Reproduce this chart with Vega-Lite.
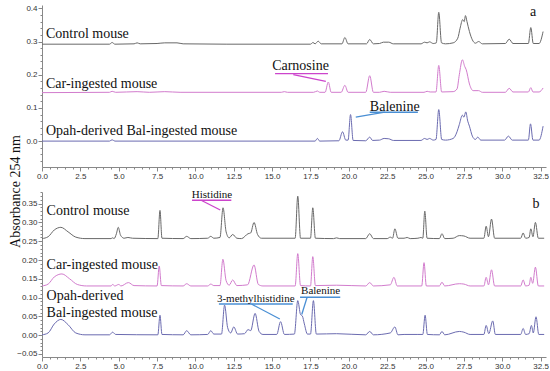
{
  "$schema": "https://vega.github.io/schema/vega-lite/v6.json",
  "padding": {"top": 4, "left": 8, "right": 0, "bottom": 0},
  "bounds": "flush",
  "spacing": 25,
  "config": {
    "view": {"stroke": null},
    "axis": {"domainColor": "#888", "tickColor": "#888", "labelColor": "#333", "labelFont": "Liberation Sans", "labelFontSize": 8, "labelPadding": 1, "grid": false, "labelFlush": false, "labelOverlap": false}
  },
  "datasets": {
    "tC": [{"t":0,"a":0.292},{"t":4.4,"a":0.292},{"t":4.57,"a":0.297},{"t":4.75,"a":0.292},{"t":6.0,"a":0.293},{"t":6.2,"a":0.296},{"t":6.4,"a":0.293},{"t":7.5,"a":0.294},{"t":8.0,"a":0.296},{"t":8.8,"a":0.296},{"t":9.2,"a":0.293},{"t":12,"a":0.292},{"t":17.5,"a":0.292},{"t":17.66,"a":0.297},{"t":17.8,"a":0.293},{"t":18.0,"a":0.301},{"t":18.2,"a":0.293},{"t":19.55,"a":0.293},{"t":19.74,"a":0.312},{"t":19.95,"a":0.293},{"t":21.15,"a":0.293},{"t":21.36,"a":0.306},{"t":21.6,"a":0.293},{"t":22.0,"a":0.294},{"t":22.25,"a":0.298},{"t":22.6,"a":0.298},{"t":22.9,"a":0.293},{"t":24.7,"a":0.293},{"t":24.94,"a":0.298},{"t":25.1,"a":0.296},{"t":25.26,"a":0.299},{"t":25.5,"a":0.294},{"t":25.7,"a":0.296},{"t":25.86,"a":0.388},{"t":26.04,"a":0.296},{"t":26.3,"a":0.293},{"t":26.8,"a":0.296},{"t":27.1,"a":0.31},{"t":27.25,"a":0.34},{"t":27.42,"a":0.366},{"t":27.52,"a":0.36},{"t":27.6,"a":0.378},{"t":27.7,"a":0.36},{"t":27.86,"a":0.33},{"t":28.05,"a":0.305},{"t":28.25,"a":0.295},{"t":28.46,"a":0.30},{"t":28.7,"a":0.293},{"t":30.2,"a":0.294},{"t":30.45,"a":0.307},{"t":30.7,"a":0.294},{"t":31.7,"a":0.294},{"t":31.86,"a":0.342},{"t":32.02,"a":0.294},{"t":32.4,"a":0.294},{"t":32.66,"a":0.33}],
    "tP": [{"t":0,"a":0.146},{"t":4.4,"a":0.147},{"t":4.57,"a":0.150},{"t":4.8,"a":0.147},{"t":6.2,"a":0.149},{"t":7,"a":0.147},{"t":8,"a":0.149},{"t":9,"a":0.147},{"t":15.6,"a":0.147},{"t":15.8,"a":0.149},{"t":16.0,"a":0.147},{"t":17.7,"a":0.147},{"t":17.95,"a":0.151},{"t":18.1,"a":0.147},{"t":18.45,"a":0.147},{"t":18.66,"a":0.178},{"t":18.85,"a":0.147},{"t":19.5,"a":0.147},{"t":19.74,"a":0.168},{"t":19.95,"a":0.147},{"t":21.1,"a":0.147},{"t":21.36,"a":0.197},{"t":21.6,"a":0.147},{"t":22.0,"a":0.147},{"t":22.3,"a":0.150},{"t":22.7,"a":0.147},{"t":24.9,"a":0.147},{"t":25.1,"a":0.150},{"t":25.3,"a":0.148},{"t":25.68,"a":0.148},{"t":25.86,"a":0.228},{"t":26.05,"a":0.148},{"t":26.8,"a":0.149},{"t":27.05,"a":0.157},{"t":27.2,"a":0.2},{"t":27.4,"a":0.245},{"t":27.55,"a":0.225},{"t":27.65,"a":0.215},{"t":27.86,"a":0.172},{"t":28.1,"a":0.152},{"t":28.46,"a":0.152},{"t":28.7,"a":0.147},{"t":30.2,"a":0.147},{"t":30.45,"a":0.159},{"t":30.7,"a":0.148},{"t":31.7,"a":0.148},{"t":31.86,"a":0.161},{"t":32.0,"a":0.148},{"t":32.4,"a":0.148},{"t":32.66,"a":0.16}],
    "tB": [{"t":0,"a":0.0},{"t":4.4,"a":0.0},{"t":4.57,"a":0.004},{"t":4.75,"a":0.0},{"t":17.8,"a":0.0},{"t":17.95,"a":0.008},{"t":18.1,"a":0.0},{"t":19.35,"a":0.001},{"t":19.59,"a":0.028},{"t":19.8,"a":0.003},{"t":19.95,"a":0.003},{"t":20.11,"a":0.08},{"t":20.28,"a":0.002},{"t":21.1,"a":0.001},{"t":21.36,"a":0.012},{"t":21.55,"a":0.002},{"t":22.0,"a":0.003},{"t":22.3,"a":0.008},{"t":22.6,"a":0.007},{"t":22.9,"a":0.002},{"t":24.7,"a":0.002},{"t":24.94,"a":0.008},{"t":25.1,"a":0.005},{"t":25.26,"a":0.008},{"t":25.5,"a":0.003},{"t":25.68,"a":0.005},{"t":25.86,"a":0.095},{"t":26.05,"a":0.005},{"t":26.3,"a":0.003},{"t":26.8,"a":0.008},{"t":27.05,"a":0.028},{"t":27.2,"a":0.05},{"t":27.4,"a":0.078},{"t":27.5,"a":0.072},{"t":27.62,"a":0.088},{"t":27.75,"a":0.06},{"t":27.86,"a":0.045},{"t":28.05,"a":0.015},{"t":28.25,"a":0.005},{"t":28.4,"a":0.012},{"t":28.6,"a":0.003},{"t":30.15,"a":0.003},{"t":30.4,"a":0.015},{"t":30.65,"a":0.003},{"t":31.7,"a":0.003},{"t":31.84,"a":0.052},{"t":32.0,"a":0.003},{"t":32.4,"a":0.003},{"t":32.66,"a":0.045}],
    "bC": [{"t":0,"a":0.257},{"t":0.4,"a":0.262},{"t":0.8,"a":0.28},{"t":1.23,"a":0.287},{"t":1.7,"a":0.275},{"t":2.2,"a":0.261},{"t":2.8,"a":0.257},{"t":4.5,"a":0.257},{"t":4.6,"a":0.259},{"t":4.7,"a":0.257},{"t":4.85,"a":0.27},{"t":4.97,"a":0.287},{"t":5.12,"a":0.266},{"t":5.35,"a":0.258},{"t":5.6,"a":0.26},{"t":5.9,"a":0.258},{"t":7.55,"a":0.257},{"t":7.69,"a":0.332},{"t":7.82,"a":0.258},{"t":9.2,"a":0.257},{"t":9.43,"a":0.263},{"t":9.7,"a":0.257},{"t":10.8,"a":0.258},{"t":11.0,"a":0.263},{"t":11.2,"a":0.258},{"t":11.6,"a":0.26},{"t":11.8,"a":0.339},{"t":12.0,"a":0.275},{"t":12.2,"a":0.259},{"t":12.43,"a":0.268},{"t":12.7,"a":0.258},{"t":13.0,"a":0.257},{"t":13.43,"a":0.27},{"t":13.6,"a":0.272},{"t":13.82,"a":0.30},{"t":14.05,"a":0.268},{"t":14.3,"a":0.258},{"t":16.5,"a":0.258},{"t":16.67,"a":0.37},{"t":16.85,"a":0.258},{"t":17.5,"a":0.258},{"t":17.65,"a":0.339},{"t":17.82,"a":0.258},{"t":19.0,"a":0.257},{"t":19.2,"a":0.259},{"t":19.4,"a":0.257},{"t":21.1,"a":0.257},{"t":21.36,"a":0.27},{"t":21.6,"a":0.257},{"t":22.5,"a":0.257},{"t":22.7,"a":0.261},{"t":22.85,"a":0.258},{"t":23.0,"a":0.283},{"t":23.2,"a":0.258},{"t":23.6,"a":0.258},{"t":23.8,"a":0.26},{"t":24.0,"a":0.257},{"t":24.5,"a":0.258},{"t":24.7,"a":0.26},{"t":24.82,"a":0.258},{"t":24.95,"a":0.33},{"t":25.1,"a":0.258},{"t":25.9,"a":0.257},{"t":26.07,"a":0.27},{"t":26.25,"a":0.257},{"t":26.8,"a":0.258},{"t":27.2,"a":0.265},{"t":27.5,"a":0.264},{"t":27.9,"a":0.258},{"t":28.8,"a":0.258},{"t":28.95,"a":0.29},{"t":29.1,"a":0.262},{"t":29.3,"a":0.309},{"t":29.5,"a":0.258},{"t":31.2,"a":0.258},{"t":31.36,"a":0.272},{"t":31.52,"a":0.258},{"t":31.75,"a":0.26},{"t":31.86,"a":0.283},{"t":32.0,"a":0.262},{"t":32.16,"a":0.30},{"t":32.35,"a":0.258},{"t":32.73,"a":0.258}],
    "bP": [{"t":0,"a":0.131},{"t":0.4,"a":0.136},{"t":0.8,"a":0.155},{"t":1.3,"a":0.163},{"t":1.8,"a":0.15},{"t":2.3,"a":0.135},{"t":2.9,"a":0.131},{"t":4.5,"a":0.131},{"t":4.6,"a":0.135},{"t":4.75,"a":0.131},{"t":5.0,"a":0.135},{"t":5.15,"a":0.131},{"t":5.63,"a":0.14},{"t":6.0,"a":0.132},{"t":7.5,"a":0.131},{"t":7.64,"a":0.184},{"t":7.78,"a":0.132},{"t":9.2,"a":0.131},{"t":9.43,"a":0.137},{"t":9.7,"a":0.131},{"t":10.8,"a":0.131},{"t":11.0,"a":0.136},{"t":11.2,"a":0.132},{"t":11.6,"a":0.132},{"t":11.79,"a":0.202},{"t":12.0,"a":0.145},{"t":12.2,"a":0.133},{"t":12.43,"a":0.147},{"t":12.7,"a":0.132},{"t":13.4,"a":0.134},{"t":13.82,"a":0.187},{"t":14.1,"a":0.135},{"t":14.4,"a":0.131},{"t":16.5,"a":0.131},{"t":16.67,"a":0.217},{"t":16.85,"a":0.132},{"t":17.5,"a":0.131},{"t":17.65,"a":0.209},{"t":17.82,"a":0.132},{"t":19.2,"a":0.133},{"t":21.1,"a":0.131},{"t":21.36,"a":0.14},{"t":21.6,"a":0.131},{"t":22.7,"a":0.134},{"t":22.94,"a":0.154},{"t":23.15,"a":0.131},{"t":24.75,"a":0.131},{"t":24.9,"a":0.193},{"t":25.05,"a":0.131},{"t":25.9,"a":0.131},{"t":26.07,"a":0.141},{"t":26.25,"a":0.131},{"t":27.2,"a":0.137},{"t":27.5,"a":0.136},{"t":27.9,"a":0.131},{"t":28.8,"a":0.131},{"t":28.95,"a":0.154},{"t":29.1,"a":0.134},{"t":29.3,"a":0.174},{"t":29.5,"a":0.131},{"t":31.2,"a":0.131},{"t":31.36,"a":0.147},{"t":31.52,"a":0.131},{"t":31.75,"a":0.133},{"t":31.86,"a":0.154},{"t":31.98,"a":0.138},{"t":32.16,"a":0.181},{"t":32.35,"a":0.131},{"t":32.73,"a":0.131}],
    "bB": [{"t":0,"a":0.001},{"t":0.4,"a":0.006},{"t":0.8,"a":0.03},{"t":1.23,"a":0.042},{"t":1.7,"a":0.028},{"t":2.2,"a":0.006},{"t":2.8,"a":0.001},{"t":4.4,"a":0.001},{"t":4.6,"a":0.008},{"t":4.8,"a":0.002},{"t":7.55,"a":0.001},{"t":7.69,"a":0.053},{"t":7.82,"a":0.002},{"t":9.2,"a":0.001},{"t":9.43,"a":0.012},{"t":9.7,"a":0.001},{"t":10.8,"a":0.002},{"t":11.0,"a":0.012},{"t":11.2,"a":0.003},{"t":11.7,"a":0.003},{"t":11.9,"a":0.08},{"t":12.1,"a":0.02},{"t":12.3,"a":0.006},{"t":12.5,"a":0.022},{"t":12.75,"a":0.003},{"t":13.2,"a":0.004},{"t":13.43,"a":0.015},{"t":13.6,"a":0.012},{"t":13.89,"a":0.058},{"t":14.15,"a":0.01},{"t":14.4,"a":0.002},{"t":15.3,"a":0.002},{"t":15.55,"a":0.036},{"t":15.8,"a":0.002},{"t":16.45,"a":0.003},{"t":16.67,"a":0.092},{"t":16.85,"a":0.055},{"t":16.97,"a":0.051},{"t":17.1,"a":0.03},{"t":17.3,"a":0.003},{"t":17.5,"a":0.003},{"t":17.69,"a":0.092},{"t":17.88,"a":0.003},{"t":19.2,"a":0.004},{"t":21.1,"a":0.001},{"t":21.36,"a":0.01},{"t":21.6,"a":0.001},{"t":22.7,"a":0.006},{"t":23.0,"a":0.022},{"t":23.2,"a":0.001},{"t":23.6,"a":0.002},{"t":24.5,"a":0.002},{"t":24.82,"a":0.002},{"t":24.97,"a":0.053},{"t":25.12,"a":0.002},{"t":25.9,"a":0.001},{"t":26.07,"a":0.01},{"t":26.25,"a":0.001},{"t":27.2,"a":0.01},{"t":27.5,"a":0.008},{"t":27.9,"a":0.002},{"t":28.8,"a":0.002},{"t":28.95,"a":0.026},{"t":29.12,"a":0.004},{"t":29.38,"a":0.038},{"t":29.55,"a":0.002},{"t":31.2,"a":0.002},{"t":31.36,"a":0.018},{"t":31.52,"a":0.002},{"t":31.75,"a":0.004},{"t":31.9,"a":0.026},{"t":32.02,"a":0.006},{"t":32.2,"a":0.049},{"t":32.38,"a":0.002},{"t":32.73,"a":0.002}],
    "tLab": [{"t":0.26,"a":0.31,"label":"Control mouse"},{"t":0.26,"a":0.16,"label":"Car-ingested mouse"},{"t":0.26,"a":0.018,"label":"Opah-derived Bal-ingested mouse"},{"t":31.8,"a":0.377,"label":"a"}],
    "tAnn": [{"t":16.85,"a":0.213,"label":"Carnosine"},{"t":22.99,"a":0.091,"label":"Balenine"}],
    "tRules": [{"t":15.19,"a":0.203,"t2":18.64,"a2":0.203,"c":"pink"},{"t":16.38,"a":0.2,"t2":18.5,"a2":0.18,"c":"pink"},{"t":21.36,"a":0.087,"t2":24.5,"a2":0.087,"c":"blue"},{"t":22.34,"a":0.087,"t2":20.45,"a2":0.072,"c":"blue"}],
    "bLab": [{"t":0.3,"a":0.319,"label":"Control mouse"},{"t":0.3,"a":0.175,"label":"Car-ingested mouse"},{"t":0.3,"a":0.093,"label":"Opah-derived"},{"t":0.3,"a":0.049,"label":"Bal-ingested mouse"},{"t":31.97,"a":0.339,"label":"b"}],
    "bAnn": [{"t":11.08,"a":0.364,"label":"Histidine"},{"t":13.93,"a":0.089,"label":"3-methylhistidine"},{"t":18.16,"a":0.109,"label":"Balenine"}],
    "bRules": [{"t":9.78,"a":0.359,"t2":12.34,"a2":0.359,"c":"pink"},{"t":10.37,"a":0.359,"t2":11.62,"a2":0.333,"c":"pink"},{"t":11.53,"a":0.083,"t2":16.34,"a2":0.083,"c":"blue"},{"t":13.65,"a":0.083,"t2":15.5,"a2":0.043,"c":"blue"},{"t":16.82,"a":0.101,"t2":19.44,"a2":0.101,"c":"blue"},{"t":17.28,"a":0.101,"t2":16.93,"a2":0.055,"c":"blue"}]
  },
  "vconcat": [
    {
      "width": 504,
      "height": 162,
      "encoding": {
        "x": {"field": "t", "type": "quantitative", "scale": {"domain": [0, 32.85], "nice": false, "zero": false},
          "axis": {"title": null, "values": [0,0.5,1,1.5,2,2.5,3,3.5,4,4.5,5,5.5,6,6.5,7,7.5,8,8.5,9,9.5,10,10.5,11,11.5,12,12.5,13,13.5,14,14.5,15,15.5,16,16.5,17,17.5,18,18.5,19,19.5,20,20.5,21,21.5,22,22.5,23,23.5,24,24.5,25,25.5,26,26.5,27,27.5,28,28.5,29,29.5,30,30.5,31,31.5,32,32.5],
            "labelExpr": "abs(datum.value/2.5 - round(datum.value/2.5)) < 0.001 ? format(datum.value, '.1f') : ''",
            "tickSize": {"condition": {"test": "abs(datum.value/2.5 - round(datum.value/2.5)) < 0.001", "value": 4}, "value": 2}}},
        "y": {"field": "a", "type": "quantitative", "scale": {"domain": [-0.078, 0.41], "nice": false, "zero": false},
          "axis": {"title": "Absorbance 254 nm", "titleFont": "Liberation Serif", "titleFontSize": 14, "titleFontWeight": "normal", "titleColor": "#111", "titleX": -27, "titleY": 186, "titleAngle": -90, "titleAlign": "center", "titleBaseline": "middle",
            "values": [-0.06,-0.04,-0.02,0,0.02,0.04,0.06,0.08,0.1,0.12,0.14,0.16,0.18,0.2,0.22,0.24,0.26,0.28,0.3,0.32,0.34,0.36,0.38,0.4],
            "labelExpr": "abs(datum.value*10 - round(datum.value*10)) < 0.001 ? format(datum.value, '.1f') : ''",
            "tickSize": {"condition": {"test": "abs(datum.value*10 - round(datum.value*10)) < 0.001", "value": 4}, "value": 2}}}
      },
      "layer": [
        {"data": {"name": "tC"}, "mark": {"type": "line", "color": "#686868", "strokeWidth": 1, "interpolate": "monotone"}},
        {"data": {"name": "tP"}, "mark": {"type": "line", "color": "#d27ccd", "strokeWidth": 1, "interpolate": "monotone"}},
        {"data": {"name": "tB"}, "mark": {"type": "line", "color": "#6b6bb0", "strokeWidth": 1, "interpolate": "monotone"}},
        {"data": {"name": "tRules"}, "mark": {"type": "rule", "strokeWidth": 1.3},
          "encoding": {"x2": {"field": "t2"}, "y2": {"field": "a2"},
            "color": {"field": "c", "type": "nominal", "scale": {"domain": ["pink", "blue"], "range": ["#cc44cc", "#4a8fd4"]}, "legend": null}}},
        {"data": {"name": "tLab"}, "mark": {"type": "text", "align": "left", "baseline": "alphabetic", "font": "Liberation Serif", "fontSize": 14, "color": "#111"},
          "encoding": {"text": {"field": "label"}}},
        {"data": {"name": "tAnn"}, "mark": {"type": "text", "align": "center", "baseline": "alphabetic", "font": "Liberation Serif", "fontSize": 14, "color": "#111"},
          "encoding": {"text": {"field": "label"}}}
      ]
    },
    {
      "width": 504,
      "height": 165,
      "encoding": {
        "x": {"field": "t", "type": "quantitative", "scale": {"domain": [0, 32.85], "nice": false, "zero": false},
          "axis": {"title": null, "values": [0,0.5,1,1.5,2,2.5,3,3.5,4,4.5,5,5.5,6,6.5,7,7.5,8,8.5,9,9.5,10,10.5,11,11.5,12,12.5,13,13.5,14,14.5,15,15.5,16,16.5,17,17.5,18,18.5,19,19.5,20,20.5,21,21.5,22,22.5,23,23.5,24,24.5,25,25.5,26,26.5,27,27.5,28,28.5,29,29.5,30,30.5,31,31.5,32,32.5],
            "labelExpr": "abs(datum.value/2.5 - round(datum.value/2.5)) < 0.001 ? format(datum.value, '.1f') : ''",
            "tickSize": {"condition": {"test": "abs(datum.value/2.5 - round(datum.value/2.5)) < 0.001", "value": 4}, "value": 2}}},
        "y": {"field": "a", "type": "quantitative", "scale": {"domain": [-0.058, 0.381], "nice": false, "zero": false},
          "axis": {"title": null,
            "values": [-0.05,-0.04,-0.03,-0.02,-0.01,0,0.01,0.02,0.03,0.04,0.05,0.06,0.07,0.08,0.09,0.1,0.11,0.12,0.13,0.14,0.15,0.16,0.17,0.18,0.19,0.2,0.21,0.22,0.23,0.24,0.25,0.26,0.27,0.28,0.29,0.3,0.31,0.32,0.33,0.34,0.35,0.36,0.37,0.38],
            "labelExpr": "abs(datum.value*20 - round(datum.value*20)) < 0.001 ? format(datum.value, '.2f') : ''",
            "tickSize": {"condition": {"test": "abs(datum.value*20 - round(datum.value*20)) < 0.001", "value": 4}, "value": 2}}}
      },
      "layer": [
        {"data": {"name": "bC"}, "mark": {"type": "line", "color": "#686868", "strokeWidth": 1, "interpolate": "monotone"}},
        {"data": {"name": "bP"}, "mark": {"type": "line", "color": "#d27ccd", "strokeWidth": 1, "interpolate": "monotone"}},
        {"data": {"name": "bB"}, "mark": {"type": "line", "color": "#6b6bb0", "strokeWidth": 1, "interpolate": "monotone"}},
        {"data": {"name": "bRules"}, "mark": {"type": "rule", "strokeWidth": 1.3},
          "encoding": {"x2": {"field": "t2"}, "y2": {"field": "a2"},
            "color": {"field": "c", "type": "nominal", "scale": {"domain": ["pink", "blue"], "range": ["#cc44cc", "#4a8fd4"]}, "legend": null}}},
        {"data": {"name": "bLab"}, "mark": {"type": "text", "align": "left", "baseline": "alphabetic", "font": "Liberation Serif", "fontSize": 14, "color": "#111"},
          "encoding": {"text": {"field": "label"}}},
        {"data": {"name": "bAnn"}, "mark": {"type": "text", "align": "center", "baseline": "alphabetic", "font": "Liberation Serif", "fontSize": 11, "color": "#111"},
          "encoding": {"text": {"field": "label"}}}
      ]
    }
  ]
}
